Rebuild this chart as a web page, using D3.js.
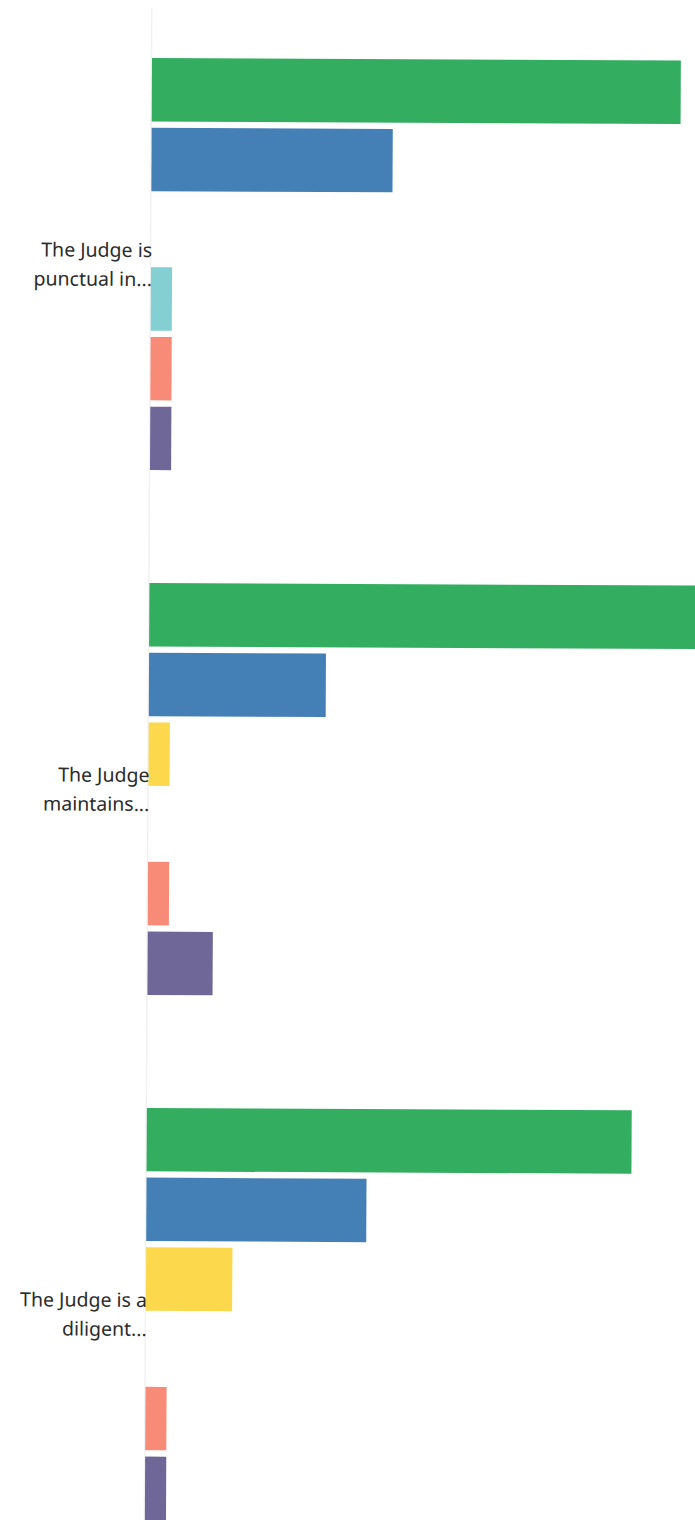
<!DOCTYPE html>
<html><head><meta charset="utf-8">
<script src="https://cdn.jsdelivr.net/npm/d3@7"></script>
<style>html,body{margin:0;padding:0;background:#fff;overflow:hidden}</style>
</head><body>
<svg id="chart" width="695" height="1520"></svg>
<script>
// Categories (question labels, as wrapped in the chart)
const categories = ["Q1", "Q2", "Q3"];
const categoryLines = [
  ["The Judge is", "punctual in..."],
  ["The Judge", "maintains..."],
  ["The Judge is a", "diligent..."]
];
// Series (answer options) and their colours
const series = ["Strongly agree", "Agree", "Neutral", "Disagree", "Strongly disagree", "N/A"];
const seriesColors = ["#33ad60", "#4480b6", "#fbd84c", "#84cfd1", "#f88b78", "#706799"];
// Values (percent) per series, in category order
const stronglyAgree   = [60.1, 67.5, 55.1];
const agree           = [27.4, 20.1, 25.0];
const neutral         = [0,    2.4,  9.8];
const disagree        = [2.4,  0,    0];
const stronglyDis     = [2.4,  2.4,  2.4];
const na              = [2.4,  7.4,  2.4];
const seriesValues = [stronglyAgree, agree, neutral, disagree, stronglyDis, na];

const svg = d3.select("#chart");
const axisX = 152, chartTop = 58;
const g = svg.append("g")
  .attr("transform", `rotate(0.28, ${axisX}, ${chartTop})`);

const y0 = d3.scaleBand().domain(categories).range([chartTop, 1520]).paddingInner(0.215).paddingOuter(0);
const y1 = d3.scaleBand().domain(series).range([0, y0.bandwidth()]).paddingInner(0.09).paddingOuter(0);
const x = d3.scaleLinear().domain([0, 100]).range([axisX, axisX + 880]);
const color = d3.scaleOrdinal().domain(series).range(seriesColors);

// faint axis line
g.append("line")
  .attr("x1", axisX - 0.5).attr("x2", axisX - 0.5)
  .attr("y1", 8).attr("y2", 1560)
  .attr("stroke", "#f1f1f1").attr("stroke-width", 1.5);

const rows = [];
categories.forEach((c, ci) => series.forEach((s, si) => {
  rows.push({cat: c, ser: s, v: seriesValues[si][ci]});
}));

g.selectAll("rect.bar").data(rows.filter(d => d.v > 0)).join("rect")
  .attr("class", "bar")
  .attr("x", x(0))
  .attr("y", d => y0(d.cat) + y1(d.ser))
  .attr("width", d => x(d.v) - x(0))
  .attr("height", y1.bandwidth())
  .attr("fill", d => color(d.ser));

const labels = g.selectAll("text.lab").data(categories).join("text")
  .attr("class", "lab")
  .attr("text-anchor", "end")
  .attr("x", axisX + 1)
  .attr("font-family", "'Noto Sans', sans-serif")
  .attr("font-size", 19.5)
  .attr("fill", "#2b2b2b");
labels.each(function(c, i) {
  const cy = y0(c) + y0.bandwidth() / 2;
  d3.select(this).selectAll("tspan").data(categoryLines[i]).join("tspan")
    .attr("x", axisX + 1)
    .attr("y", (d, k) => cy - 7 + k * 29)
    .text(d => d);
});
</script>
</body></html>
